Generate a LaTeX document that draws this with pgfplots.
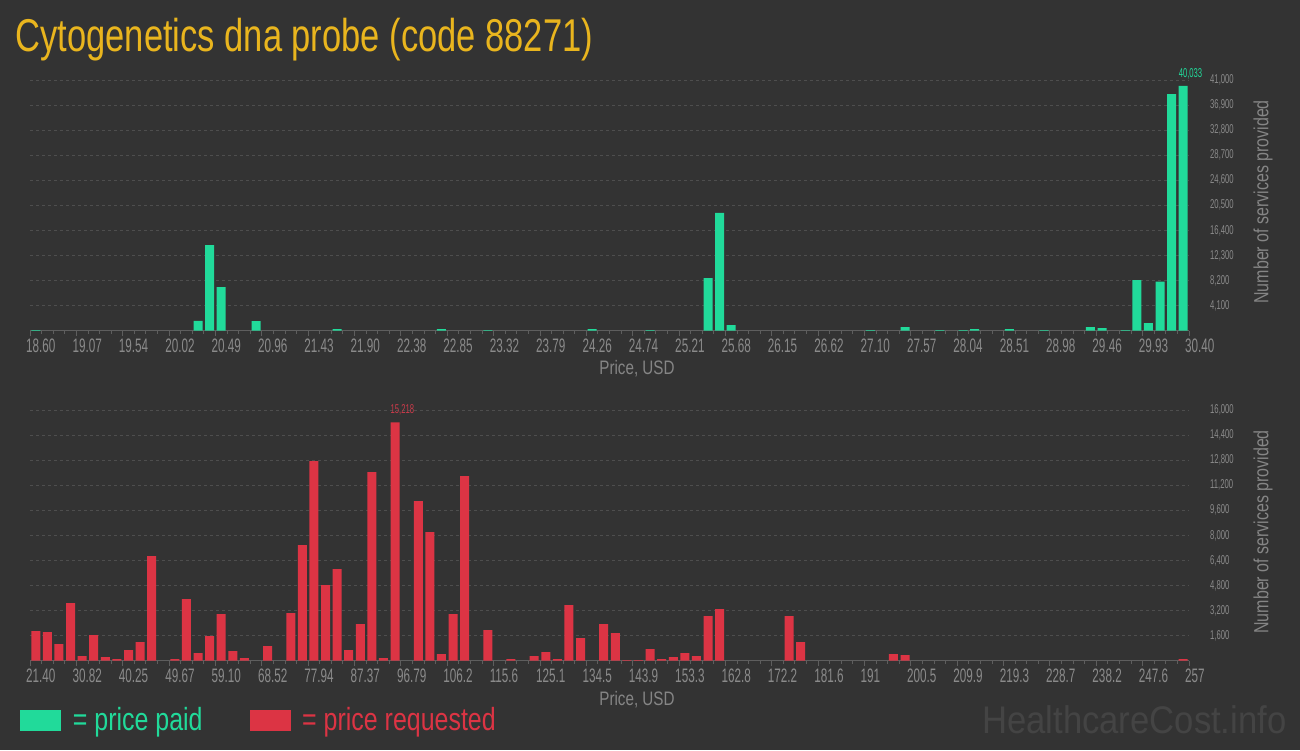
\documentclass[border=0pt]{standalone}
\usepackage{fontspec}
\setmainfont{Liberation Sans}
\newfontfamily\condfont[FakeStretch=0.78]{Liberation Sans}
\newfontfamily\titlefont[FakeStretch=0.75]{Liberation Sans}
\newfontfamily\tickfont[FakeStretch=0.6]{Liberation Sans}
\newfontfamily\wmfont[FakeStretch=0.9]{Liberation Sans}
\usepackage{pgfplots}
\usepackage{pgfplotstable}
\pgfplotsset{compat=1.18}
\definecolor{bg}{HTML}{333333}
\definecolor{paid}{HTML}{21DA9A}
\definecolor{req}{HTML}{DC3444}
\definecolor{reqlab}{HTML}{C93B4A}
\definecolor{titlec}{HTML}{E9B51E}
\definecolor{ticktext}{HTML}{8A8A8A}
\definecolor{labeltext}{HTML}{858585}
\definecolor{gridc}{HTML}{4E4E4E}
\definecolor{axisc}{HTML}{5E5E5E}
\definecolor{wm}{HTML}{444444}

\pgfplotstableread{
idx val
0 100
14 1600
15 14000
16 7140
19 1580
26 270
35 270
39 110
48 270
53 110
58 8610
59 19250
60 930
72 110
75 600
78 110
80 110
81 270
84 270
87 110
91 600
92 440
94 110
95 8290
96 1250
97 8010
98 38710
99 40033
}\paidtable

\pgfplotstableread{
idx val
0 1893
1 1829
2 1064
3 3680
4 298
5 1638
6 234
7 106
8 681
9 1191
10 6679
12 106
13 3935
14 489
15 1574
16 2978
17 617
18 170
20 936
22 3042
23 7381
24 12741
25 4828
26 5849
27 681
28 2340
29 12039
30 170
31 15218
33 10188
34 8210
35 425
36 2978
37 11784
39 1957
41 106
43 298
44 553
45 106
46 3552
47 1446
49 2340
50 1765
51 43
52 43
53 744
54 106
55 234
56 489
57 298
58 2850
59 3297
65 2850
66 1191
74 425
75 362
99 106
}\reqtable

\pgfplotsset{
 histo/.style={
  scale only axis, width=1159pt, height=250.7pt,
  xmin=0, xmax=100, ymin=0,
  axis x line*=bottom, axis y line*=right,
  y axis line style={draw=none},
  x axis line style={draw=axisc, line width=1pt, -},
  xtick={0,4,...,100},
  minor x tick num=3,
  tick align=outside,
  major tick length=5pt, minor tick length=3pt,
  x tick style={draw=axisc, line width=0.9pt},
  y tick style={draw=none},
  scaled y ticks=false,
  ymajorgrids,
  major grid style={draw=gridc, dash pattern=on 3pt off 3pt, line width=0.9pt},
  xticklabel style={font=\tickfont\fontsize{19.5}{20}\selectfont, text=ticktext, anchor=north west, inner sep=0pt, xshift=-4pt, yshift=-2.8pt},
  yticklabel style={font=\tickfont\fontsize{12.8}{13}\selectfont, text=ticktext, anchor=west, inner sep=0pt, xshift=16pt},
  xlabel={Price, USD},
  every axis x label/.style={font=\condfont\fontsize{19.5}{20}\selectfont, text=labeltext, at={(axis description cs:0.5,0)}, anchor=base, inner sep=0pt, xshift=27.5pt, yshift=-44.3pt},
  ylabel={Number of services provided},
  every axis y label/.style={font=\condfont\fontsize{20.5}{22}\selectfont, text=labeltext, at={(axis description cs:1,0.5)}, xshift=74pt, yshift=3.5pt, rotate=90, anchor=center, inner sep=0pt},
  ybar, bar width=9pt,
  clip=false,
 }
}

\begin{document}
\begin{tikzpicture}[x=1pt,y=1pt]
\fill[bg] (0,0) rectangle (1300,750);

\node[anchor=base west, inner sep=0pt, text=titlec, font=\titlefont\fontsize{46}{50}\selectfont] at (15.5,698.6) {Cytogenetics dna probe (code 88271)};

\begin{axis}[histo, at={(30pt,419.3pt)}, anchor=south west, ymax=41000,
  ytick={4100,8200,12300,16400,20500,24600,28700,32800,36900,41000},
  yticklabels={{4,100},{8,200},{12,300},{16,400},{20,500},{24,600},{28,700},{32,800},{36,900},{41,000}},
  xticklabels={18.60,19.07,19.54,20.02,20.49,20.96,21.43,21.90,22.38,22.85,23.32,23.79,24.26,24.74,25.21,25.68,26.15,26.62,27.10,27.57,28.04,28.51,28.98,29.46,29.93,30.40}]
\addplot[fill=paid, draw=none] table[x expr=\thisrow{idx}+0.5, y=val] {\paidtable};
\node[anchor=base west, inner sep=0pt, text=paid, font=\tickfont\fontsize{12.8}{13}\selectfont, yshift=8.7pt] at (axis cs:99.1,40033) {40,033};
\end{axis}

\begin{axis}[histo, at={(30pt,89.3pt)}, anchor=south west, ymax=16000,
  ytick={1600,3200,4800,6400,8000,9600,11200,12800,14400,16000},
  yticklabels={{1,600},{3,200},{4,800},{6,400},{8,000},{9,600},{11,200},{12,800},{14,400},{16,000}},
  xticklabels={21.40,30.82,40.25,49.67,59.10,68.52,77.94,87.37,96.79,106.2,115.6,125.1,134.5,143.9,153.3,162.8,172.2,181.6,191,200.5,209.9,219.3,228.7,238.2,247.6,257}]
\addplot[fill=req, draw=none] table[x expr=\thisrow{idx}+0.5, y=val] {\reqtable};
\node[anchor=base west, inner sep=0pt, text=reqlab, font=\tickfont\fontsize{12.8}{13}\selectfont, yshift=9pt] at (axis cs:31.1,15218) {15,218};
\end{axis}

% legend
\fill[paid] (20,19) rectangle (61,40);
\node[anchor=base west, inner sep=0pt, text=paid, font=\condfont\fontsize{32}{34}\selectfont] at (72.7,19.3) {= price paid};
\fill[req] (250,19) rectangle (291,40);
\node[anchor=base west, inner sep=0pt, text=req, font=\condfont\fontsize{32}{34}\selectfont] at (302,19.3) {= price requested};
% watermark
\node[anchor=base west, inner sep=0pt, text=wm, font=\wmfont\fontsize{38.5}{40}\selectfont] at (982,16.7) {HealthcareCost.info};

\pgfresetboundingbox
\useasboundingbox (0,0) rectangle (1300,750);
\end{tikzpicture}
\end{document}
